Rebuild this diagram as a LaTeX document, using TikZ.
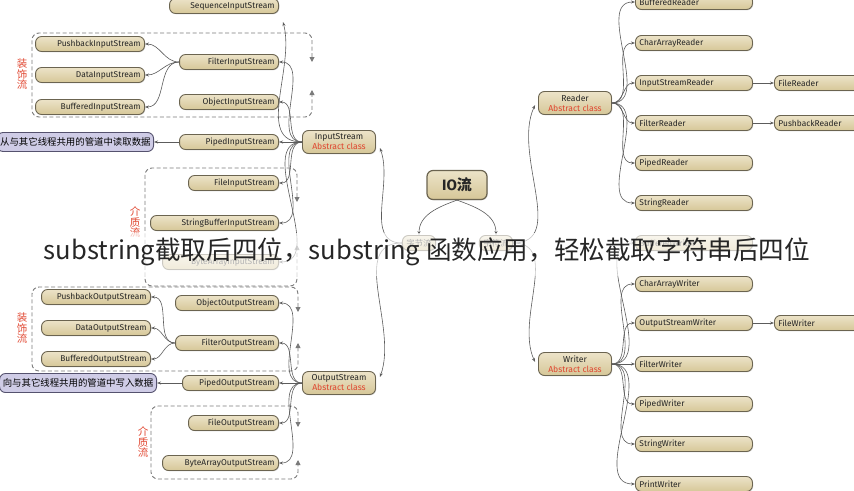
\documentclass[tikz,border=0pt]{standalone}
\usepackage{fontspec}
\setmainfont{Fira Sans}
\newfontfamily\cjk{Noto Sans CJK SC}
\usetikzlibrary{calc,arrows.meta,shadows}
\tikzset {>=Stealth}

\definecolor{boxfill}{HTML}{D6C798}
\definecolor{boxtop}{HTML}{ECE3C8}
\definecolor{boxline}{HTML}{6B6450}
\definecolor{notefill}{HTML}{CFCCE6}
\definecolor{noteline}{HTML}{55526E}
\definecolor{absred}{HTML}{E0452F}
\definecolor{wiregray}{HTML}{5C5C5C}
\definecolor{dashgray}{HTML}{7A7A7A}

\tikzset{
  cls/.style={draw=boxline, line width=.9pt, top color=boxtop, bottom color=boxfill,
    rounded corners=6pt, minimum height=15pt, inner xsep=4pt, inner ysep=0pt,
    font=\fontsize{8.4}{9.5}\selectfont, text=black!85,
    drop shadow={opacity=.25, shadow xshift=.8pt, shadow yshift=-.8pt}},
  lcls/.style={cls, anchor=east, text width=#1, align=right},
  rcls/.style={cls, anchor=west, text width=#1, align=left},
  abs/.style={cls, minimum width=73pt, minimum height=23pt, align=center,
    font=\fontsize{8.6}{10}\selectfont},
  io/.style={cls, minimum width=60pt, minimum height=29pt, line width=1.2pt,
    font=\fontsize{15}{16}\selectfont\bfseries},
  note/.style={draw=noteline, fill=notefill, line width=.9pt, rounded corners=6pt,
    anchor=east, minimum height=19pt, inner xsep=3pt, inner ysep=0pt,
    font=\cjk\fontsize{9.4}{10}\selectfont},
  kind/.style={text=absred, align=center, font=\cjk\fontsize{10.5}{10.8}\selectfont},
  wire/.style={draw=wiregray, line width=.6pt, -{Stealth[length=4pt,width=3pt]}},
  frame/.style={draw=dashgray, line width=.9pt, dash pattern=on 4pt off 2.5pt,
    rounded corners=7pt, fill=none,
    {Triangle[length=5pt,width=5pt]}-{Triangle[length=5pt,width=5pt]}},
}

\begin{document}
\begin{tikzpicture}[x=1pt,y=-1pt]
\useasboundingbox (0,0) rectangle (854,490);

% Dashed groups, each right side is split into two arrows
\draw [frame] (312,62) -- (312,33) -- (32,33) -- (32,117) -- (312,117) -- (312,90);
\draw [frame] (297,202) -- (297,168) -- (145,168) -- (145,286) -- (297,286) -- (297,245);
\draw [frame] (298,312) -- (298,287) -- (32,287) -- (32,371) -- (298,371) -- (298,343);
\draw [frame] (298,427) -- (298,406) -- (151,406) -- (151,479) -- (298,479) -- (298,460);
\node [kind] (deco-in)  at (22,74)   {装\\饰\\流};
\node [kind] (media-in) at (135,222) {介\\质\\流};
\node [kind] (deco-out) at (22,328)  {装\\饰\\流};
\node [kind] (media-out) at (143,442) {介\\质\\流};

% Root and the two kinds of streams
\node [io]  (IO)    at (457,185) {IO{\cjk 流}};
\node [cls] (bytes) at (419,243) {\cjk 字节流};
\node [cls] (chars) at (496,243) {\cjk 字符流};

% Byte input streams
\node [abs] (IS) at (339,142) {InputStream\\\textcolor{absred}{Abstract class}};
\node [lcls=101pt] (seq)       at (279,6)   {SequenceInputStream};
\node [lcls=101pt] (pb-in)     at (145,44)  {PushbackInputStream};
\node [lcls=101pt] (data-in)   at (145,75)  {DataInputStream};
\node [lcls=101pt] (buf-in)    at (145,107) {BufferedInputStream};
\node [lcls=91pt]  (filter-in) at (279,62)  {FilterInputStream};
\node [lcls=91pt]  (obj-in)    at (279,102) {ObjectInputStream};
\node [lcls=91pt]  (pipe-in)   at (279,142) {PipedInputStream};
\node [lcls=82pt]  (file-in)   at (279,183) {FileInputStream};
\node [lcls=120pt] (sb-in)     at (279,223) {StringBufferInputStream};
\node [lcls=108pt] (ba-in)     at (279,262) {ByteArrayInputStream};
\node [note, minimum width=154pt] (read-note) at (154,142) {从与其它线程共用的管道中读取数据};
\coordinate (seq-in) at (283,22);

% Byte output streams
\node [abs] (OS) at (339,383) {OutputStream\\\textcolor{absred}{Abstract class}};
\node [lcls=101pt] (pb-out)     at (151,297) {PushbackOutputStream};
\node [lcls=101pt] (data-out)   at (151,328) {DataOutputStream};
\node [lcls=101pt] (buf-out)    at (151,359) {BufferedOutputStream};
\node [lcls=95pt]  (obj-out)    at (279,303) {ObjectOutputStream};
\node [lcls=95pt]  (filter-out) at (279,343) {FilterOutputStream};
\node [lcls=88pt]  (pipe-out)   at (279,383) {PipedOutputStream};
\node [lcls=82pt]  (file-out)   at (279,423) {FileOutputStream};
\node [lcls=108pt] (ba-out)     at (279,463) {ByteArrayOutputStream};
\node [note, minimum width=157pt] (write-note) at (157,383) {向与其它线程共用的管道中写入数据};

% Character streams
\node [abs] (RD) at (575,103) {Reader\\\textcolor{absred}{Abstract class}};
\node [rcls=109pt] (buf-rd)    at (635,2)   {BufferedReader};
\node [rcls=109pt] (char-rd)   at (635,43)  {CharArrayReader};
\node [rcls=109pt] (isr)       at (635,83)  {InputStreamReader};
\node [rcls=109pt] (filter-rd) at (635,123) {FilterReader};
\node [rcls=109pt] (pipe-rd)   at (635,163) {PipedReader};
\node [rcls=109pt] (str-rd)    at (635,203) {StringReader};
\node [rcls=80pt]  (file-rd)   at (774,83)  {FileReader};
\node [rcls=80pt]  (pb-rd)     at (774,123) {PushbackReader};

\node [abs] (WR) at (575,364) {Writer\\\textcolor{absred}{Abstract class}};
\node [rcls=109pt] (buf-wr)    at (635,243) {BufferedWriter};
\node [rcls=109pt] (char-wr)   at (635,284) {CharArrayWriter};
\node [rcls=109pt] (osw)       at (635,323) {OutputStreamWriter};
\node [rcls=109pt] (filter-wr) at (635,364) {FilterWriter};
\node [rcls=109pt] (pipe-wr)   at (635,404) {PipedWriter};
\node [rcls=109pt] (str-wr)    at (635,444) {StringWriter};
\node [rcls=109pt] (print-wr)  at (635,484) {PrintWriter};
\node [rcls=80pt]  (file-wr)   at (774,323) {FileWriter};

% Root to byte and char streams
\draw [wire] (IO.south) to[out=200,in=90] (bytes.north);
\draw [wire] (IO.south) to[out=-20,in=90] (chars.north);
\draw [wire] (bytes.west) to[out=180,in=-70] ($(IS.east)+(4,6)$);
\draw [wire] (bytes.west) to[out=180,in=70] ($(OS.east)+(4,-6)$);
\draw [wire] (chars.east) to[out=0,in=-115] ($(RD.west)+(-3,2)$);
\draw [wire] (chars.east) to[out=0,in=115] ($(WR.west)+(-3,-2)$);

% InputStream branches
\draw [wire] (IS.west) to[out=180,in=-75] (seq-in);
\draw [wire] (IS.west) to[out=180,in=0] (filter-in.east);
\draw [wire] (IS.west) to[out=180,in=0] (obj-in.east);
\draw [wire] (IS.west) -- (pipe-in.east);
\draw [wire] (IS.west) to[out=180,in=0] (file-in.east);
\draw [wire] (IS.west) to[out=180,in=0] (sb-in.east);
\draw [wire] (IS.west) to[out=180,in=0] (ba-in.east);
\draw [wire] (filter-in.west) to[out=180,in=0] (pb-in.east);
\draw [wire] (filter-in.west) to[out=180,in=0] (data-in.east);
\draw [wire] (filter-in.west) to[out=180,in=0] (buf-in.east);
\draw [wire] (pipe-in.west) -- (read-note.east);

% OutputStream branches
\draw [wire] (OS.west) to[out=180,in=0] (obj-out.east);
\draw [wire] (OS.west) to[out=180,in=0] (filter-out.east);
\draw [wire] (OS.west) -- (pipe-out.east);
\draw [wire] (OS.west) to[out=180,in=0] (file-out.east);
\draw [wire] (OS.west) to[out=180,in=0] (ba-out.east);
\draw [wire] (filter-out.west) to[out=180,in=0] (pb-out.east);
\draw [wire] (filter-out.west) to[out=180,in=0] (data-out.east);
\draw [wire] (filter-out.west) to[out=180,in=0] (buf-out.east);
\draw [wire] (pipe-out.west) -- (write-note.east);

% Reader branches
\draw [wire] (RD.east) to[out=0,in=180] (buf-rd.west);
\draw [wire] (RD.east) to[out=0,in=180] (char-rd.west);
\draw [wire] (RD.east) to[out=0,in=180] (isr.west);
\draw [wire] (RD.east) to[out=0,in=180] (filter-rd.west);
\draw [wire] (RD.east) to[out=0,in=180] (pipe-rd.west);
\draw [wire] (RD.east) to[out=0,in=180] (str-rd.west);
\draw [wire] (isr.east) -- (file-rd.west);
\draw [wire] (filter-rd.east) -- (pb-rd.west);

% Writer branches
\draw [wire] (WR.east) to[out=0,in=180] (buf-wr.west);
\draw [wire] (WR.east) to[out=0,in=180] (char-wr.west);
\draw [wire] (WR.east) to[out=0,in=180] (osw.west);
\draw [wire] (WR.east) -- (filter-wr.west);
\draw [wire] (WR.east) to[out=0,in=180] (pipe-wr.west);
\draw [wire] (WR.east) to[out=0,in=180] (str-wr.west);
\draw [wire] (WR.east) to[out=0,in=180] (print-wr.west);
\draw [wire] (osw.east) -- (file-wr.west);

% Caption laid over the middle band
\fill [white, opacity=.65] (0,233) rectangle (854,276);
\node [text=black!85, font=\cjk\fontsize{25.6}{26}\selectfont] (caption) at (427,252)
  {substring截取后四位，substring 函数应用，轻松截取字符串后四位};
\end{tikzpicture}
\end{document}
